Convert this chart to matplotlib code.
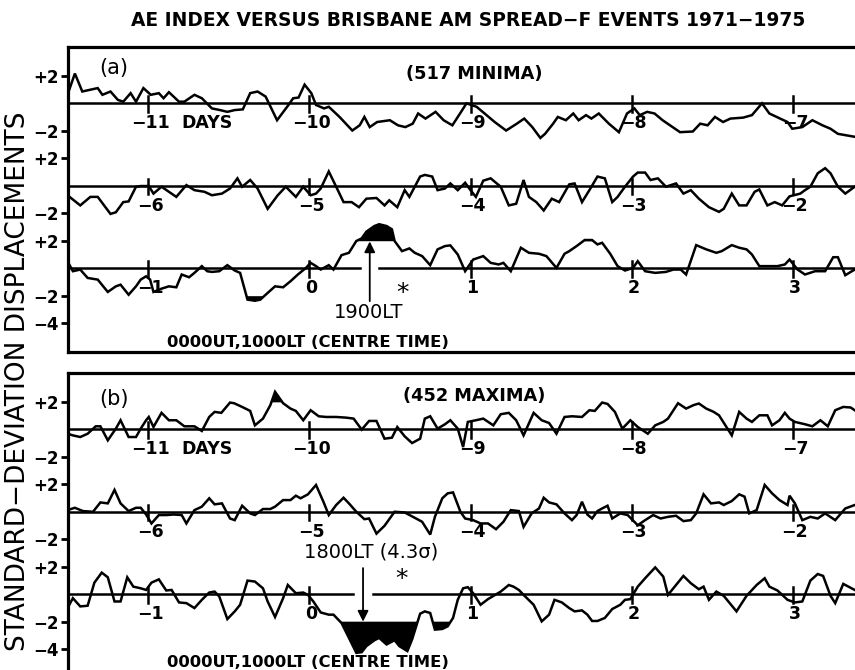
import numpy as np
import matplotlib
matplotlib.use("Agg")
import matplotlib.pyplot as plt

# Superposed-epoch AE index, standard-deviation displacements.
# Each row shows 5 days; hours are counted from the start of the row.
# Panel (a): 517 minima

a1_h = [0.0, 1.1, 2.2, 4.5, 5.2, 6.4, 7.5, 8.3, 9.4, 10.2, 11.3, 12.4, 13.6, 14.3, 15.1,
        16.6, 17.4, 18.9, 20.0, 21.5, 22.7, 23.8, 24.9, 26.1, 27.2, 28.3, 29.5, 31.2,
        32.9, 33.6, 34.4, 35.3, 36.3, 37.0, 38.2, 38.9, 40.5, 42.4, 43.5, 44.2, 45.0,
        46.1, 48.0, 49.2, 50.3, 51.4, 52.2, 53.3, 54.8, 56.0, 57.3, 58.6, 59.4, 60.9,
        62.1, 63.6, 65.3, 66.9, 68.0, 69.2, 70.4, 71.1, 72.3, 73.0, 74.2, 75.3, 76.1,
        77.2, 78.0, 79.1, 80.6, 82.1, 83.3, 84.4, 85.2, 86.3, 87.4, 88.6, 91.2, 93.1,
        94.2, 95.3, 96.4, 97.6, 98.7, 100.6, 101.9, 103.4, 104.5, 106.1, 107.2, 107.9,
        109.4, 110.9, 112.4, 113.6, 114.7, 116.2, 117.6]
a1_v = [0.62, 2.17, 0.86, 1.11, 0.62, 0.86, 0.25, 0.12, 0.74, 0.12, 1.11, 0.62, 0.74, 0.37, 0.81,
        0.12, 0.12, 0.62, 0.37, -0.37, -0.49, -0.62, -0.49, -0.44, 0.74, 0.86, 0.49, -1.23,
        -0.12, 0.37, 0.42, 1.36, 0.74, -0.12, -0.37, -0.25, -0.99, -1.98, -1.6, -0.99, -1.73,
        -1.36, -1.23, -1.6, -1.73, -1.48, -0.74, -1.11, -0.62, -1.23, -1.6, -0.62, 0.0, -0.25,
        -0.74, -1.36, -1.98, -1.48, -1.11, -1.73, -2.52, -2.22, -1.48, -0.99, -1.23, -0.74, -1.23,
        -0.86, -1.11, -0.74, -1.48, -2.1, -0.74, -0.37, -0.86, -0.62, -0.74, -1.23, -2.1, -2.05,
        -1.48, -1.6, -0.99, -1.36, -1.11, -1.04, -0.86, 0.0, -0.74, -1.11, -1.36, -1.85,
        -1.73, -1.23, -1.6, -1.85, -2.22, -2.35, -2.47]

a2_h = [0.0, 1.9, 3.4, 4.5, 6.4, 7.2, 8.3, 9.1, 10.2, 10.9, 12.1, 12.8, 14.0, 15.1, 16.2,
        17.7, 18.9, 20.4, 21.5, 23.0, 24.2, 25.3, 26.0, 27.2, 28.3, 29.8, 31.3, 32.5, 34.0,
        35.1, 36.2, 37.0, 37.7, 38.9, 40.0, 41.1, 42.3, 43.4, 44.5, 46.0, 47.2, 47.9, 49.1,
        50.2, 50.9, 52.5, 53.2, 54.3, 55.1, 56.2, 57.0, 58.1, 59.2, 60.0, 60.8, 61.9, 63.0,
        64.5, 65.7, 66.8, 67.9, 68.7, 69.8, 70.9, 72.1, 73.2, 74.7, 75.5, 76.6, 77.7, 78.9,
        80.0, 81.1, 81.9, 83.0, 84.2, 84.9, 86.0, 86.8, 87.9, 89.1, 90.6, 91.7, 92.8, 94.0,
        95.5, 97.0, 97.7, 98.9, 100.0, 101.1, 102.3, 103.0, 104.2, 105.3, 106.4, 107.5,
        109.1, 109.8, 110.6, 111.7, 112.8, 113.6, 114.7, 115.8, 117.2]
a2_v = [-0.69, -1.43, -0.81, -0.81, -2.05, -1.93, -1.19, -1.14, -0.07, -0.02, -0.02, -0.57, -0.07, -0.44, -0.81,
        0.05, -0.32, -0.44, -0.69, -0.57, -0.2, 0.54, -0.07, 0.42, -0.2, -1.68, -0.69, -0.07, -0.81,
        -0.07, -0.69, -0.57, -0.2, 1.04, -0.07, -1.19, -1.19, -1.56, -0.94, -0.89, -1.43, -1.06, -1.56,
        -0.32, -0.81, 0.67, 0.79, 0.67, -0.32, -0.2, 0.17, -0.32, 0.22, -0.32, -0.81, 0.37, 0.54,
        -0.07, -1.43, -1.31, 0.42, -0.81, -1.19, -1.8, -0.94, -1.19, 0.1, 0.17, -1.19, -0.32, 0.67,
        0.54, -1.19, -0.81, -0.07, 0.67, 0.96, 0.96, 0.42, 0.54, -0.07, 0.17, -0.57, -0.32, -0.94,
        -1.56, -1.9, -1.68, -0.57, -1.43, -1.43, -0.44, -0.27, -1.43, -1.19, -1.43, -0.77,
        -0.57, -0.32, -0.07, 0.91, 1.28, 0.91, -0.07, -0.57, -0.07]

a3_h = [0.0, 0.8, 1.9, 3.0, 4.5, 6.0, 7.2, 7.9, 9.1, 10.2, 10.9, 11.7, 12.3, 12.8, 14.0,
        15.1, 16.2, 17.0, 18.1, 18.9, 20.0, 20.8, 21.5, 22.6, 23.8, 24.9, 25.7, 26.8, 27.9,
        28.7, 29.8, 30.9, 32.1, 33.2, 34.3, 35.5, 36.2, 37.0, 37.7, 38.9, 39.6, 40.8, 41.9,
        43.0, 43.8, 44.5, 45.7, 46.4, 47.5, 48.3, 48.7, 49.8, 50.9, 51.7, 52.8, 54.0, 55.1,
        56.2, 57.0, 58.1, 59.2, 60.4, 61.9, 63.0, 64.2, 64.9, 66.0, 67.5, 68.7, 70.2, 71.3,
        72.8, 74.0, 74.7, 75.8, 77.0, 78.1, 78.9, 79.6, 80.8, 81.9, 83.0, 84.2, 84.9, 86.0,
        87.5, 89.1, 90.2, 91.3, 92.1, 93.6, 95.1, 96.6, 97.4, 98.9, 100.0, 101.1, 101.9,
        103.0, 104.2, 105.7, 106.8, 107.5, 108.7, 109.8, 111.3, 112.8, 114.0, 114.7, 115.8, 117.2]
a3_v = [0.51, -0.22, -0.1, -0.71, -0.83, -1.73, -1.32, -1.2, -1.93, -1.32, -0.83, -0.59, -0.83, -1.73, -1.49,
        -1.32, -1.39, -0.46, -0.66, -0.34, 0.15, -0.22, -0.27, -0.22, 0.22, -0.17, -0.34, -2.29, -2.37,
        -2.29, -1.8, -1.32, -1.39, -0.95, -0.46, 0.02, 0.39, 0.15, -0.1, 0.22, -0.1, 0.95, 1.12,
        1.98, 2.17, 2.66, 3.07, 3.2, 3.07, 2.83, 1.98, 1.24, 1.44, 1.12, 0.88, 0.22, 1.37,
        1.61, 1.66, 1.0, -0.22, 0.63, 0.88, 0.39, 0.27, 0.39, -0.22, 1.49, 1.12, 1.05, 0.88,
        0.02, 1.05, 1.24, 1.61, 2.05, 2.05, 1.73, 1.85, 1.05, 0.15, -0.17, 0.02, 0.51, -0.22,
        -0.34, -0.27, -0.1, -0.1, -0.46, 1.68, 1.37, 1.12, 1.24, 1.68, 1.49, 1.37, 1.0,
        0.15, 0.15, 0.15, 0.27, 0.63, -0.1, -0.46, -0.22, -0.22, 0.8, 0.8, -0.51, -0.1]

# Panel (b): 452 maxima
b1_h = [0.0, 0.8, 1.9, 3.0, 4.2, 4.9, 6.0, 7.2, 7.9, 9.1, 10.2, 10.9, 11.7, 12.1, 12.8,
        14.0, 15.1, 16.2, 17.4, 18.9, 20.0, 21.1, 21.9, 22.9, 24.2, 24.8, 26.0, 27.2, 27.9,
        29.1, 30.2, 30.9, 32.1, 33.2, 34.0, 35.1, 36.2, 37.4, 38.5, 40.0, 41.5, 42.6, 43.8,
        44.9, 46.0, 47.2, 48.3, 49.1, 50.2, 51.3, 52.5, 53.2, 54.0, 55.1, 56.2, 57.0, 58.1,
        58.9, 59.6, 60.8, 61.9, 63.4, 64.5, 65.7, 66.8, 67.9, 69.4, 70.6, 71.7, 72.8, 74.0,
        75.1, 76.6, 77.7, 78.5, 79.6, 80.4, 81.5, 82.6, 83.8, 84.9, 86.4, 87.5, 88.7, 89.4,
        90.9, 92.1, 93.2, 94.0, 95.1, 96.2, 97.0, 98.9, 100.0, 101.1, 101.9, 103.0, 104.2,
        104.9, 106.0, 106.8, 107.5, 108.3, 109.8, 110.9, 112.1, 113.2, 114.3, 115.5, 116.6, 117.2]
b1_v = [-0.32, -0.44, -0.56, -0.32, 0.22, 0.22, -0.8, 0.05, 0.66, -0.56, -0.56, 0.05, 0.66, 0.9, 0.17,
        1.2, 0.66, 0.66, 0.22, 0.22, -0.12, 0.9, 1.27, 1.2, 1.95, 1.9, 1.63, 1.34, 0.29,
        0.78, 1.76, 2.73, 1.9, 1.51, 1.34, 0.66, 1.39, 0.95, 0.9, 0.9, 0.85, 0.78, -0.02,
        0.61, 0.61, -0.68, -0.61, 0.17, -0.51, -1.0, -0.68, 0.78, 0.95, 0.05, 0.37, 0.66, 0.05,
        -1.29, 0.54, 0.66, 0.78, 0.29, 1.1, 1.2, 0.66, -0.44, 1.2, 0.66, 0.46, -0.32, 0.9,
        0.95, 0.9, 1.39, 1.34, 1.95, 1.85, 1.27, 0.05, 0.66, 0.17, -0.32, 0.29, 0.54, 0.78,
        1.9, 1.51, 1.76, 1.88, 1.51, 1.27, 1.02, -0.44, 1.27, 0.78, 0.54, 1.02, 1.02,
        0.29, 0.66, 1.2, 0.78, 0.54, 0.37, 0.22, 0.66, 0.22, 1.39, 1.63, 1.59, 1.39]

b2_h = [0.0, 1.1, 2.3, 3.8, 4.9, 6.0, 7.0, 7.9, 9.1, 10.2, 10.9, 11.7, 12.5, 13.6, 14.7,
        15.8, 17.0, 17.7, 18.9, 20.0, 21.1, 21.9, 23.0, 24.2, 24.9, 26.0, 27.2, 27.9, 29.1,
        30.2, 30.9, 32.1, 33.2, 34.0, 34.7, 35.8, 37.0, 38.1, 38.9, 40.0, 41.1, 41.9, 43.0,
        44.2, 44.9, 46.0, 47.2, 48.7, 50.2, 51.7, 52.8, 54.0, 54.7, 55.8, 56.6, 57.4, 58.5,
        59.2, 60.4, 61.5, 62.6, 63.8, 64.9, 66.0, 67.2, 67.9, 69.1, 70.2, 70.9, 71.7, 72.8,
        74.0, 75.1, 75.8, 76.6, 77.4, 78.1, 78.9, 79.6, 80.4, 81.1, 82.3, 83.4, 84.9, 86.0,
        87.2, 88.3, 89.4, 90.6, 91.7, 92.8, 93.6, 94.7, 95.8, 97.0, 97.7, 98.9, 100.0, 100.8,
        101.5, 102.6, 103.8, 104.9, 106.0, 107.2, 107.5, 108.3, 109.4, 110.6, 111.7, 112.8,
        114.3, 115.8, 117.2]
b2_v = [0.12, 0.29, 0.05, 0.0, 0.68, 0.61, 1.59, 0.61, 0.05, 0.29, 0.29, -0.2, -0.85, -0.24, -0.24,
        -0.2, -0.24, -0.85, 0.12, 0.37, 0.98, 0.54, 0.61, -0.49, -0.61, 0.44, -0.12, -0.24, 0.2,
        0.2, 0.37, 0.85, 0.85, 1.17, 0.98, 1.27, 1.95, 0.73, -0.24, 0.49, 1.02, 0.61, 0.0,
        -0.54, -0.49, -1.59, -1.02, 0.0, -0.05, -0.44, -0.73, -1.66, -0.37, 0.98, 1.34, 1.41, 0.0,
        -0.49, -0.61, -0.85, -0.85, -1.27, -0.73, 0.12, 0.05, -1.1, -0.12, 0.24, 1.02, 0.68, 0.54,
        -0.12, -0.61, -0.24, 0.73, -0.2, -0.49, 0.05, 0.24, 0.44, -0.49, -0.12, -0.24, -0.98, -0.61,
        -0.24, -0.49, -0.37, -0.29, -0.68, -0.61, -0.12, 1.27, 0.61, 0.68, 0.49, 0.78, 1.27, 1.1,
        -0.12, 0.12, 1.95, 1.34, 0.85, 0.49, 1.17, 0.61, -0.61, -0.37, -0.49, -0.12,
        -0.61, 0.24, 0.49]

b3_h = [0.0, 0.8, 1.9, 3.0, 4.0, 5.1, 6.0, 7.0, 7.9, 8.9, 9.8, 10.9, 11.7, 12.5, 13.6,
        14.7, 15.5, 16.6, 17.7, 18.9, 20.0, 21.1, 21.9, 22.6, 23.8, 24.9, 25.7, 26.8, 27.9,
        29.1, 29.8, 30.9, 32.1, 32.8, 34.0, 35.1, 35.8, 36.6, 37.7, 38.9, 39.6, 40.8, 41.9,
        43.0, 43.8, 44.5, 45.7, 46.4, 47.5, 48.7, 49.4, 50.6, 51.3, 52.5, 53.2, 54.0, 54.7,
        55.8, 56.6, 57.4, 58.1, 58.9, 59.6, 60.4, 61.5, 62.6, 64.5, 65.7, 66.4, 67.2, 67.9,
        69.4, 70.6, 71.7, 72.5, 73.6, 74.7, 75.5, 76.6, 77.4, 78.1, 78.9, 80.0, 81.1, 82.3,
        83.0, 83.8, 84.9, 86.0, 87.5, 88.7, 89.4, 90.6, 91.7, 92.8, 94.0, 94.7, 95.5, 96.6,
        97.7, 99.6, 101.1, 102.6, 103.8, 104.5, 105.7, 107.2, 108.3, 109.4, 110.6, 111.7,
        112.5, 113.6, 114.3, 115.5, 117.2]
b3_v = [-1.01, -0.29, -0.89, -0.84, 0.84, 1.57, 1.23, -0.53, -0.53, 1.23, 0.55, 0.43, 0.31, 0.84, 1.08,
        0.27, 0.31, -0.6, -0.65, -1.01, -0.41, 0.12, 0.19, -0.17, -1.81, -1.25, -0.77, 0.99, 0.92,
        0.43, -0.53, -1.66, -0.29, 0.67, 0.07, 0.12, -0.05, -0.53, -1.33, -1.49, -1.49, -2.1, -3.18,
        -4.27, -4.22, -3.78, -3.35, -3.18, -3.66, -3.35, -3.78, -4.14, -3.3, -1.42, -1.25, -1.37, -2.58,
        -2.53, -2.34, -1.73, -0.41, 0.43, 0.51, 0.07, -0.77, -0.36, 0.19, 0.67, 0.55, 0.31, -0.05,
        -0.77, -1.98, -1.49, -0.41, -0.6, -1.01, -1.25, -1.18, -1.49, -1.95, -1.95, -1.73, -1.08, -0.77,
        -0.41, -0.36, 0.55, 1.16, 1.95, 1.28, -0.05, 0.67, 1.33, 0.8, 0.36, 0.55, -0.41, 0.19,
        -0.12, -1.25, -0.12, 0.67, 1.16, 0.55, 0.27, -0.41, -0.6, -0.53, 0.99, 1.47,
        1.33, -0.12, -0.65, 0.75, 0.31]

# shaded excursions beyond 2 sigma: (row, first hour, last hour)
a_fills = [(2, 25, 30), (2, 42, 50), (2, 76, 80)]
b_fills = [(0, 29, 33), (2, 40, 58)]

day_labels = [["−11", "−10", "−9", "−8", "−7"],
              ["−6", "−5", "−4", "−3", "−2"],
              ["−1", "0", "1", "2", "3"]]
day_hours = [12, 36, 60, 84, 108]
row_offsets = [0, -6, -12]

ytick_pos = [2, -2, -4, -8, -10, -14, -16]
ytick_lab = ["+2", "−2", "+2", "−2", "+2", "−2", "−4"]

plt.rcParams["font.family"] = ["DejaVu Sans"]

fig = plt.figure(figsize=(8.55, 6.7), dpi=100)
lw = 1.8


def draw_panel(ax, rows, fills, arrow_h, foot_y):
    ax.set_xlim(0, 120)
    ax.set_ylim(-18.1, 4.1)
    ax.spines["right"].set_visible(False)
    for s in ["top", "left", "bottom"]:
        ax.spines[s].set_linewidth(2.3)
    ax.set_xticks([])
    ax.set_yticks(ytick_pos)
    ax.set_yticklabels(ytick_lab, fontsize=12, fontweight="bold")
    ax.tick_params(axis="y", direction="out", length=5, width=2, pad=1)

    for r, (h, v) in enumerate(rows):
        off = row_offsets[r]
        h = np.array(h)
        v = np.array(v)
        ax.plot(h, v + off, color="black", lw=lw, solid_joinstyle="miter")
        # baseline, broken around the arrow in the lowest row
        if r == 2:
            ax.plot([0, arrow_h - 1.45], [off, off], color="black", lw=lw)
            ax.plot([arrow_h + 1.45, 120], [off, off], color="black", lw=lw)
        else:
            ax.plot([0, 120], [off, off], color="black", lw=lw)
        for k, dh in enumerate(day_hours):
            ax.plot([dh, dh], [off - 0.62, off + 0.5], color="black", lw=lw)
            ax.text(dh + 0.3, off - 1.45, day_labels[r][k], ha="center", va="center",
                    fontsize=12.5, fontweight="bold")

    for r, lo, hi in fills:
        h = np.array(rows[r][0])
        v = np.array(rows[r][1])
        off = row_offsets[r]
        win = (h >= lo) & (h <= hi)
        ax.fill_between(h, v + off, off + 2, where=win & (v > 2), interpolate=True,
                        color="black", lw=0)
        ax.fill_between(h, v + off, off - 2, where=win & (v < -2), interpolate=True,
                        color="black", lw=0)

    ax.text(20.8, -1.45, "DAYS", ha="center", va="center", fontsize=12.5, fontweight="bold")
    ax.text(35.8, foot_y, "0000UT,1000LT (CENTRE TIME)", ha="center", va="center",
            fontsize=11.8, fontweight="bold")


ax_a = fig.add_axes([67.5 / 855, 1 - 352 / 670, 806 / 855, 305 / 670])
draw_panel(ax_a, [(a1_h, a1_v), (a2_h, a2_v), (a3_h, a3_v)], a_fills, 45, -17.4)
ax_a.text(6.9, 2.57, "(a)", ha="center", va="center", fontsize=15)
ax_a.text(60.6, 2.1, "(517 MINIMA)", ha="center", va="center", fontsize=12.8, fontweight="bold")
ax_a.annotate("", xy=(45, -10.05), xytext=(45, -14.4),
              arrowprops=dict(arrowstyle="-|>", color="black", lw=1.3,
                              mutation_scale=16, shrinkA=0, shrinkB=0))
ax_a.text(44.9, -15.2, "1900LT", ha="center", va="center", fontsize=14)
ax_a.text(49.9, -13.8, "*", ha="center", va="center", fontsize=18)

ax_b = fig.add_axes([67.5 / 855, 1 - 678 / 670, 806 / 855, 305 / 670])
draw_panel(ax_b, [(b1_h, b1_v), (b2_h, b2_v), (b3_h, b3_v)], b_fills, 44, -17.0)
ax_b.text(6.9, 2.18, "(b)", ha="center", va="center", fontsize=15)
ax_b.text(60.5, 2.4, "(452 MAXIMA)", ha="center", va="center", fontsize=12.8, fontweight="bold")
ax_b.annotate("", xy=(44, -14.0), xytext=(44, -10.1),
              arrowprops=dict(arrowstyle="-|>", color="black", lw=1.3,
                              mutation_scale=16, shrinkA=0, shrinkB=0))
ax_b.text(45.2, -8.95, "1800LT (4.3σ)", ha="center", va="center", fontsize=14)
ax_b.text(49.8, -10.9, "*", ha="center", va="center", fontsize=18)

fig.text(468 / 855, 1 - 21 / 670, "AE INDEX VERSUS BRISBANE AM SPREAD−F EVENTS 1971−1975",
         ha="center", va="center", fontsize=13.4, fontweight="bold")
fig.text(18 / 855, 1 - 381 / 670, "STANDARD−DEVIATION DISPLACEMENTS", rotation=90,
         ha="center", va="center", fontsize=19)

fig.savefig("out.png", dpi=100)
